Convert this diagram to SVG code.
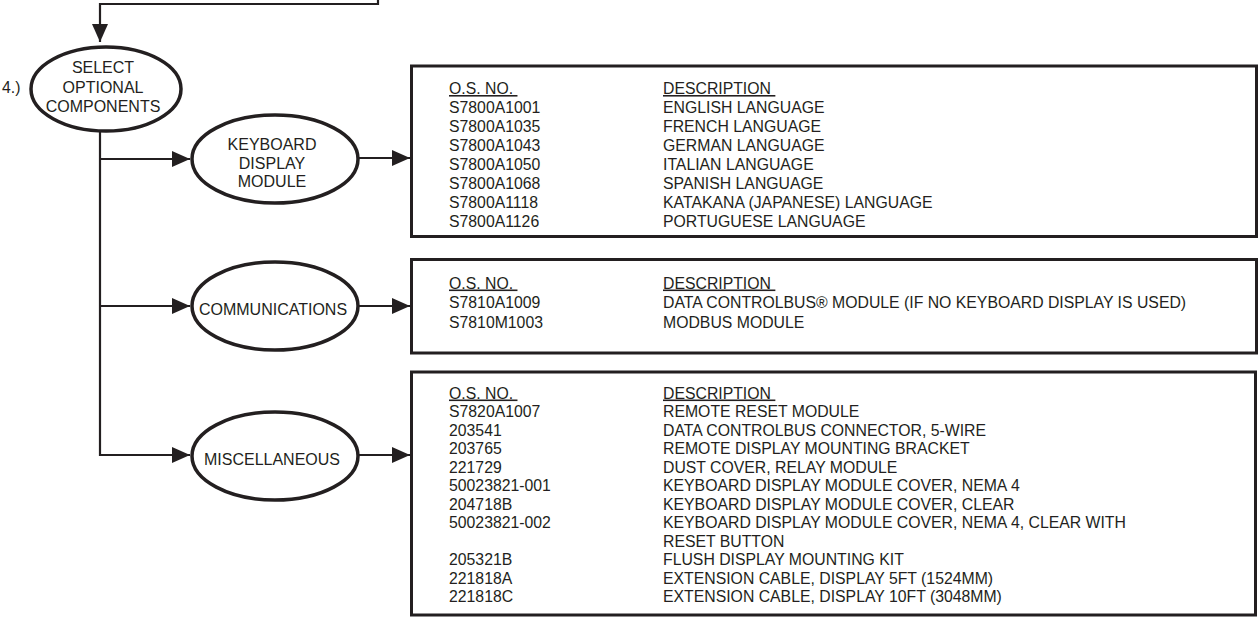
<svg xmlns="http://www.w3.org/2000/svg" width="1260" height="624" viewBox="0 0 1260 624">
<defs>
<marker id="arr" markerWidth="18" markerHeight="16" refX="18" refY="8" orient="auto" markerUnits="userSpaceOnUse">
<path d="M0,0 L18,8 L0,16 Z" fill="#231f20"/>
</marker>
<style>
.ell{fill:#fff;stroke:#231f20;stroke-width:3.5}
.box{fill:#fff;stroke:#231f20;stroke-width:3}
.con{fill:none;stroke:#231f20;stroke-width:2.2}
.lbl{font-family:"Liberation Sans",Arial,sans-serif;font-size:16px;fill:#231f20;text-anchor:middle}
.tx{font-family:"Liberation Sans",Arial,sans-serif;font-size:15.8px;fill:#231f20}
.hd{text-decoration:underline}
</style>
</defs>
<rect width="1260" height="624" fill="#fff"/>
<g id="connectors">
<path class="con" d="M378,0 V4 H100 V42" marker-end="url(#arr)"/>
<path class="con" d="M100,132 V455 H190" marker-end="url(#arr)"/>
<path class="con" d="M100,159 H190" marker-end="url(#arr)"/>
<path class="con" d="M100,306 H190" marker-end="url(#arr)"/>
<path class="con" d="M358,158 H410" marker-end="url(#arr)"/>
<path class="con" d="M358,306 H410" marker-end="url(#arr)"/>
<path class="con" d="M358,455 H410" marker-end="url(#arr)"/>
</g>
<g id="step-label">
<text class="tx" x="2" y="93">4.)</text>
</g>
<g id="select">
<ellipse class="ell" cx="106" cy="89" rx="75" ry="42"/>
<text class="lbl" x="103" y="73">SELECT</text>
<text class="lbl" x="103" y="93">OPTIONAL</text>
<text class="lbl" x="103" y="111.5">COMPONENTS</text>
</g>
<g id="keyboard">
<ellipse class="ell" cx="275" cy="159" rx="83" ry="44"/>
<text class="lbl" x="272" y="150">KEYBOARD</text>
<text class="lbl" x="272" y="168.5">DISPLAY</text>
<text class="lbl" x="272" y="187">MODULE</text>
</g>
<g id="communications">
<ellipse class="ell" cx="275" cy="306" rx="83" ry="44"/>
<text class="lbl" x="273" y="315">COMMUNICATIONS</text>
</g>
<g id="miscellaneous">
<ellipse class="ell" cx="275" cy="456" rx="83" ry="44"/>
<text class="lbl" x="272" y="465">MISCELLANEOUS</text>
</g>
<g id="keyboard-table">
<rect class="box" x="411.5" y="66" width="845" height="170.5"/>
<text class="tx hd" x="449" y="94">O.S. NO.&#160;</text>
<text class="tx hd" x="663" y="94">DESCRIPTION&#160;</text>
<text class="tx" x="449" y="113">S7800A1001</text><text class="tx" x="663" y="113">ENGLISH LANGUAGE</text>
<text class="tx" x="449" y="132">S7800A1035</text><text class="tx" x="663" y="132">FRENCH LANGUAGE</text>
<text class="tx" x="449" y="151">S7800A1043</text><text class="tx" x="663" y="151">GERMAN LANGUAGE</text>
<text class="tx" x="449" y="170">S7800A1050</text><text class="tx" x="663" y="170">ITALIAN LANGUAGE</text>
<text class="tx" x="449" y="189">S7800A1068</text><text class="tx" x="663" y="189">SPANISH LANGUAGE</text>
<text class="tx" x="449" y="208">S7800A1118</text><text class="tx" x="663" y="208">KATAKANA (JAPANESE) LANGUAGE</text>
<text class="tx" x="449" y="227">S7800A1126</text><text class="tx" x="663" y="227">PORTUGUESE LANGUAGE</text>
</g>
<g id="communications-table">
<rect class="box" x="411.5" y="259.5" width="845" height="93.5"/>
<text class="tx hd" x="449" y="288.5">O.S. NO.&#160;</text>
<text class="tx hd" x="663" y="288.5">DESCRIPTION&#160;</text>
<text class="tx" x="449" y="308">S7810A1009</text><text class="tx" x="663" y="308">DATA CONTROLBUS® MODULE (IF NO KEYBOARD DISPLAY IS USED)</text>
<text class="tx" x="449" y="327.5">S7810M1003</text><text class="tx" x="663" y="327.5">MODBUS MODULE</text>
</g>
<g id="miscellaneous-table">
<rect class="box" x="411.5" y="372" width="844" height="243"/>
<text class="tx hd" x="449" y="398.5">O.S. NO.&#160;</text>
<text class="tx hd" x="663" y="398.5">DESCRIPTION&#160;</text>
<text class="tx" x="449" y="417">S7820A1007</text><text class="tx" x="663" y="417">REMOTE RESET MODULE</text>
<text class="tx" x="449" y="435.5">203541</text><text class="tx" x="663" y="435.5">DATA CONTROLBUS CONNECTOR, 5-WIRE</text>
<text class="tx" x="449" y="454">203765</text><text class="tx" x="663" y="454">REMOTE DISPLAY MOUNTING BRACKET</text>
<text class="tx" x="449" y="472.5">221729</text><text class="tx" x="663" y="472.5">DUST COVER, RELAY MODULE</text>
<text class="tx" x="449" y="491">50023821-001</text><text class="tx" x="663" y="491">KEYBOARD DISPLAY MODULE COVER, NEMA 4</text>
<text class="tx" x="449" y="509.5">204718B</text><text class="tx" x="663" y="509.5">KEYBOARD DISPLAY MODULE COVER, CLEAR</text>
<text class="tx" x="449" y="528">50023821-002</text><text class="tx" x="663" y="528">KEYBOARD DISPLAY MODULE COVER, NEMA 4, CLEAR WITH</text>
<text class="tx" x="663" y="546.5">RESET BUTTON</text>
<text class="tx" x="449" y="565">205321B</text><text class="tx" x="663" y="565">FLUSH DISPLAY MOUNTING KIT</text>
<text class="tx" x="449" y="583.5">221818A</text><text class="tx" x="663" y="583.5">EXTENSION CABLE, DISPLAY 5FT (1524MM)</text>
<text class="tx" x="449" y="602">221818C</text><text class="tx" x="663" y="602">EXTENSION CABLE, DISPLAY 10FT (3048MM)</text>
</g>
</svg>
